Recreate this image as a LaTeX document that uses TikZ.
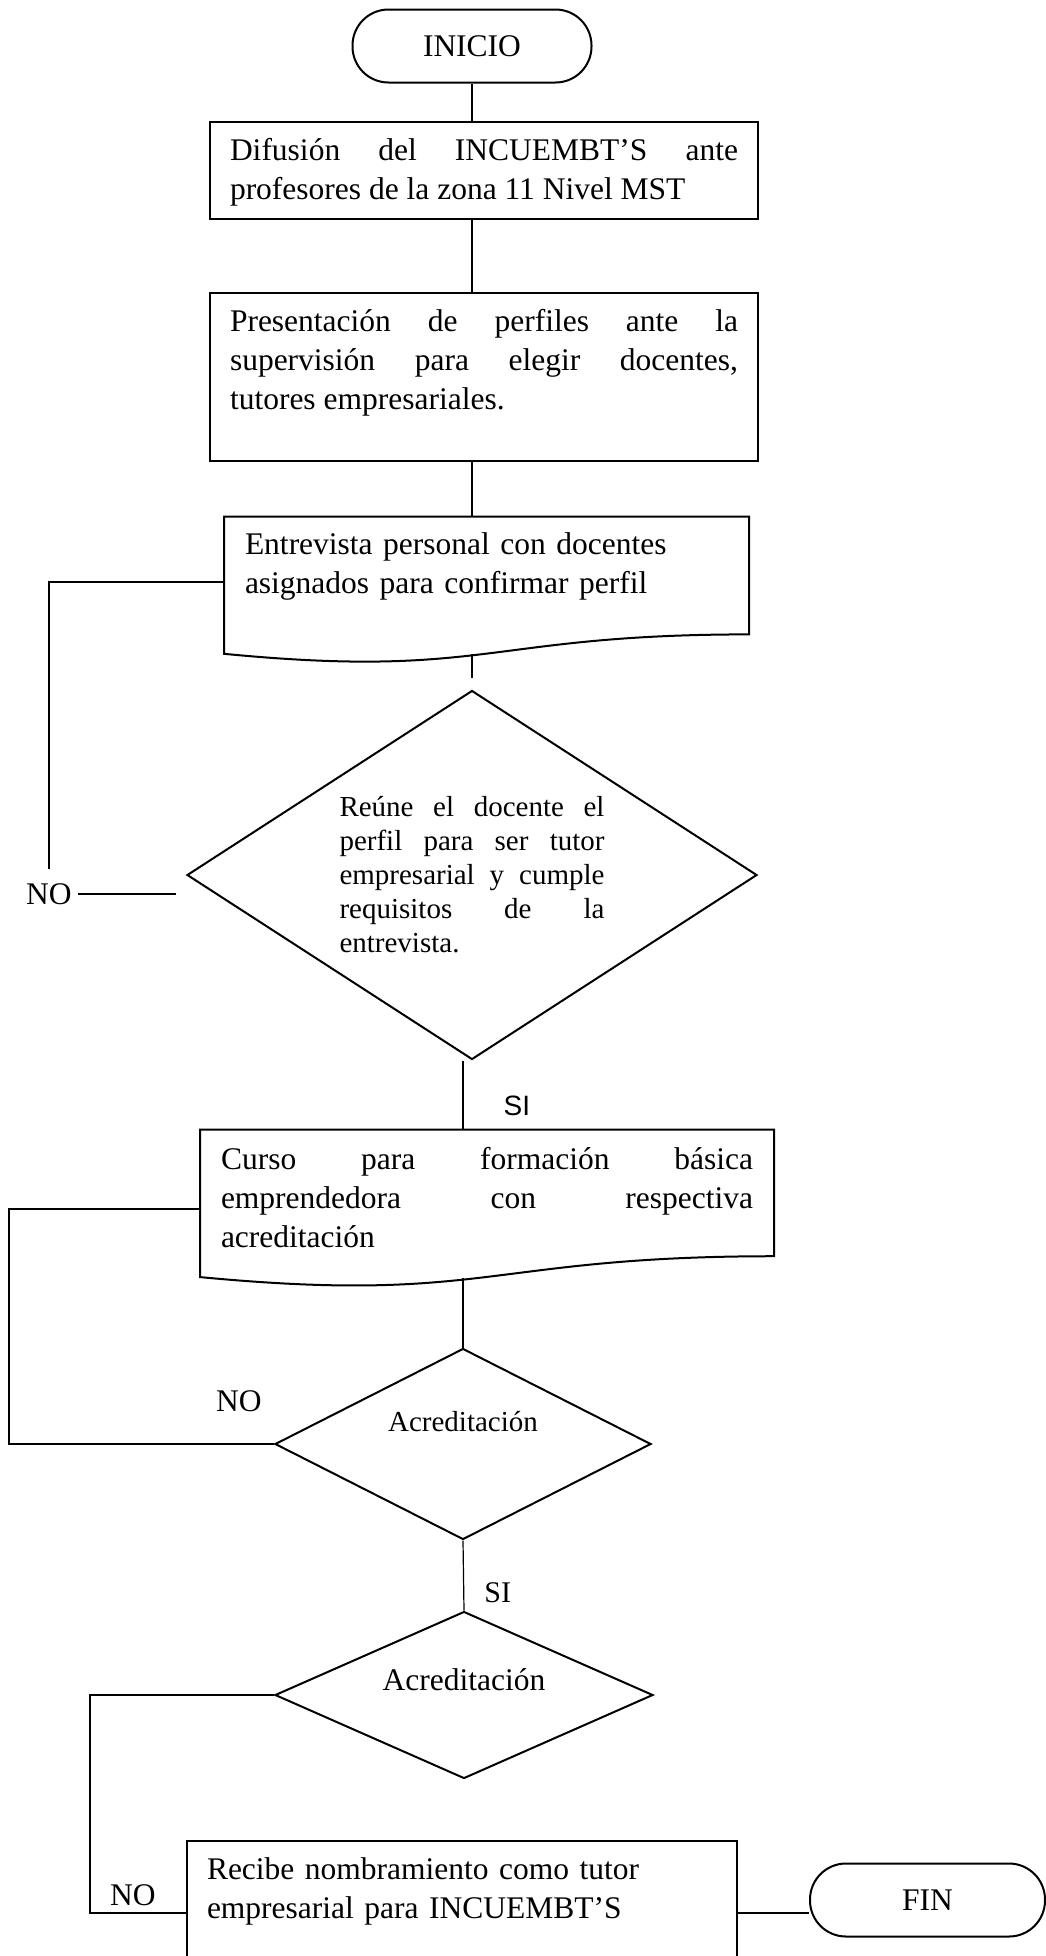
\documentclass[tikz,border=0pt]{standalone}
\usepackage{fontspec}
\setmainfont{Liberation Serif}
\setsansfont{Liberation Sans}
\usepackage{tikz}
\usetikzlibrary{positioning,shapes.geometric,calc}
\pretolerance=10000
\tolerance=10000
\hbadness=10000

\begin{document}
\begin{tikzpicture}[
x=0.5pt,
y=-0.5pt,
termbox/.style={
draw,
line width=1pt,
rounded corners=18pt,
minimum width=119.5pt,
minimum height=36.5pt,
font=\fontsize{15.75pt}{19pt}\selectfont
},
procbox/.style={
draw,
line width=1pt,
inner xsep=10pt,
inner ysep=0pt,
text height=19.5pt,
align=justify,
font=\fontsize{15.75pt}{19.5pt}\selectfont
},
docbox/.style={
procbox,
draw=none
},
decbox/.style={
draw,
line width=1pt,
diamond,
aspect=1.5,
inner sep=2pt,
align=center,
font=\fontsize{14.5pt}{17pt}\selectfont
},
link/.style={line width=0.6pt},
backline/.style={line width=1pt},
tag/.style={inner sep=0pt,font=\fontsize{15.75pt}{18pt}\selectfont}
]

\useasboundingbox (0,0) rectangle (1045,1956);

%%%%%%%%%%%%%%%%%%%%%%%%%%%%%%%%%%%%%%%%%%%%%
% Main column
%%%%%%%%%%%%%%%%%%%%%%%%%%%%%%%%%%%%%%%%%%%%%

\node[termbox] (inicio) at (472,46)
{INICIO};

\node[procbox,text width=254pt,text depth=29pt,below=18.5pt of inicio,xshift=6pt] (difusion)
{Difusión del INCUEMBT’S ante\linebreak profesores de la zona 11 Nivel MST};

\node[procbox,text width=254pt,text depth=64.5pt,below=36pt of difusion] (presenta)
{Presentación de perfiles ante la\linebreak supervisión para elegir docentes,\linebreak tutores empresariales.};

\node[docbox,align=left,text width=241.5pt,text height=18.5pt,text depth=54pt,below=27.5pt of presenta,xshift=1.25pt] (entrevista)
{Entrevista personal con docentes\\ asignados para confirmar perfil};

\node[decbox,text width=132.5pt,align=justify,minimum width=285pt,minimum height=184.5pt,below=13pt of entrevista,xshift=-7.25pt] (reune)
{Reúne el docente el\linebreak perfil para ser tutor\linebreak empresarial y cumple\linebreak requisitos de la\linebreak entrevista.};

\node[docbox,text width=266pt,text depth=58.5pt,below=34.5pt of reune,xshift=7.5pt] (curso)
{Curso para formación básica\linebreak emprendedora con respectiva\linebreak acreditación};

\node[decbox,aspect=2,text height=10pt,text depth=23pt,minimum width=188pt,minimum height=95.5pt,below=30pt of curso,xshift=-12pt] (acred1)
{Acreditación};

\node[decbox,aspect=2,font=\fontsize{15.75pt}{18pt}\selectfont,text height=10pt,text depth=15pt,minimum width=189pt,minimum height=83.5pt,below=35pt of acred1,xshift=0.5pt] (acred2)
{Acreditación};

\node[procbox,align=left,text width=255pt,text depth=52.5pt,below=30pt of acred2,xshift=-1pt] (recibe)
{Recibe nombramiento como tutor\\ empresarial para INCUEMBT’S};

\node[termbox,minimum width=117.5pt,right=35.5pt of recibe,yshift=6.25pt] (fin)
{FIN};

% document outlines
\foreach \n in {entrevista,curso}
\draw[line width=1pt] (\n.north west) -- (\n.north east)
-- ($(\n.north east)!0.802!(\n.south east)$)
.. controls ($(\n.north)!0.802!(\n.south)$) and ($(\n.north)!1.107!(\n.south)$)
.. ($(\n.north west)!0.934!(\n.south west)$) -- cycle;

%%%%%%%%%%%%%%%%%%%%%%%%%%%%%%%%%%%%%%%%%%%%%
% Labels
%%%%%%%%%%%%%%%%%%%%%%%%%%%%%%%%%%%%%%%%%%%%%

\node[tag,left=57pt of reune.west,yshift=-9.5pt] (no1) {NO};

\node[tag,left=6pt of acred1.west,yshift=21.5pt] (no2) {NO};

\node[tag,left=15pt of recibe.west,yshift=8.5pt] (no3) {NO};

%%%%%%%%%%%%%%%%%%%%%%%%%%%%%%%%%%%%%%%%%%%%%
% Connections
%%%%%%%%%%%%%%%%%%%%%%%%%%%%%%%%%%%%%%%%%%%%%

\draw[link] (inicio.south) -- (difusion.north -| inicio);

\draw[link] (difusion.south -| inicio) -- (presenta.north -| inicio);

\draw[link] (presenta.south -| inicio) -- (entrevista.north -| inicio);

\draw[link,shorten <=-5pt,shorten >=6pt] (entrevista.south -| reune) -- (reune.north);

\draw[link] (reune.south -| acred1) -- node[tag,pos=.65,right=20pt,font=\sffamily\fontsize{14pt}{16pt}\selectfont]{SI} (curso.north -| acred1);

\draw[link,shorten <=-5pt] (curso.south -| acred1) -- (acred1.north);

\draw[link] (acred1.south) -- node[tag,pos=.75,right=10pt,font=\fontsize{15pt}{17pt}\selectfont]{SI} (acred2.north);

\draw[backline] (recibe.east) -- (recibe.east -| fin.west);

% NO branches
\draw[backline,shorten <=3pt,shorten >=5pt] (no1.east) -- (no1.east -| reune.west);

\draw[backline,shorten <=7pt] (no1.north) |- ([yshift=4pt]entrevista.west);

\draw[backline] (curso.west) -- ++(-95.5pt,0) |- (acred1.west);

\draw[backline] (acred2.west) -- ++(-92pt,0) |- (recibe.west);

\end{tikzpicture}
\end{document}
